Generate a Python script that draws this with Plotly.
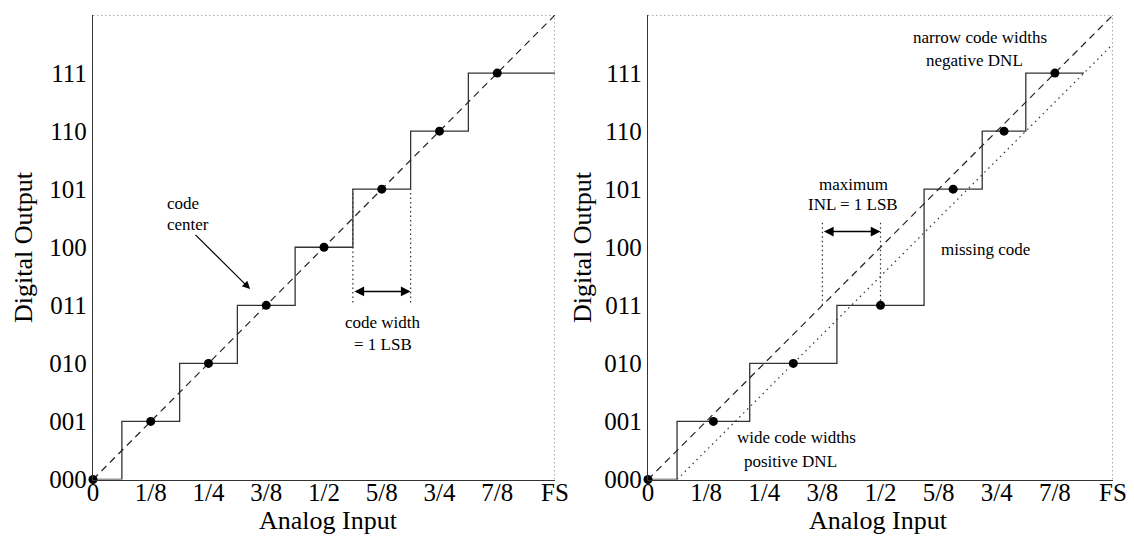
import plotly.graph_objects as go

# ---- axis ticks ----
x_tick_vals = [0, 1/8, 2/8, 3/8, 4/8, 5/8, 6/8, 7/8, 1]
x_tick_text = ["0", "1/8", "1/4", "3/8", "1/2", "5/8", "3/4", "7/8", "FS"]
y_tick_vals = [0, 1, 2, 3, 4, 5, 6, 7]
y_tick_text = ["000", "001", "010", "011", "100", "101", "110", "111"]

# ---- ideal converter (left) ----
ideal_codes = [0, 1, 2, 3, 4, 5, 6, 7]
ideal_starts = [0, 1/16, 3/16, 5/16, 7/16, 9/16, 11/16, 13/16]
ideal_end = 1.0
ideal_center_x = [0, 1/8, 2/8, 3/8, 4/8, 5/8, 6/8, 7/8]
ideal_center_y = [0, 1, 2, 3, 4, 5, 6, 7]
width_marks_x = [9/16, 11/16]
width_marks_top = 5
width_marks_bottom = 3.05
width_arrow_y = 3.24

# ---- non-ideal converter (right) ----
real_codes = [0, 1, 2, 3, 4, 5, 6, 7]
real_starts = [0, 1/16, 3.5/16, 6.5/16, 9.5/16, 9.5/16, 11.5/16, 13/16]
real_end = 15/16
real_center_x = [0, 2.25/16, 5/16, 8/16, 10.5/16, 12.25/16, 14/16]
real_center_y = [0, 1, 2, 3, 5, 6, 7]
shifted_line_x = [1/16, 1]
shifted_line_y = [0, 7.5]
inl_marks_x = [3/8, 1/2]
inl_marks_bottom = 3
inl_marks_top = 4.47
inl_arrow_y = 4.27

ideal_line_x = [0, 1]
ideal_line_y = [0, 8]

FONT = "Liberation Serif"
STEP_COLOR = "#333333"

fig = go.Figure()

def add_panel(xa, ya, starts, codes, end, cx, cy):
    fig.add_trace(go.Scatter(x=starts + [end], y=codes + [codes[-1]], mode="lines",
                             line=dict(color=STEP_COLOR, width=1.3, shape="hv"),
                             xaxis=xa, yaxis=ya, showlegend=False, hoverinfo="skip"))
    fig.add_trace(go.Scatter(x=ideal_line_x, y=ideal_line_y, mode="lines",
                             line=dict(color="#222222", width=1.2, dash="7px,5px"),
                             xaxis=xa, yaxis=ya, showlegend=False, hoverinfo="skip"))
    fig.add_trace(go.Scatter(x=cx, y=cy, mode="markers", cliponaxis=False,
                             marker=dict(color="black", size=9),
                             xaxis=xa, yaxis=ya, showlegend=False, hoverinfo="skip"))

add_panel("x", "y", ideal_starts, ideal_codes, ideal_end, ideal_center_x, ideal_center_y)
add_panel("x2", "y2", real_starts, real_codes, real_end, real_center_x, real_center_y)

# shifted dotted line on the right panel
fig.add_trace(go.Scatter(x=shifted_line_x, y=shifted_line_y, mode="lines",
                         line=dict(color="#333333", width=1.2, dash="1.5px,4px"),
                         xaxis="x2", yaxis="y2", showlegend=False, hoverinfo="skip"))

# dotted marker verticals
for xv in width_marks_x:
    fig.add_trace(go.Scatter(x=[xv, xv], y=[width_marks_bottom, width_marks_top], mode="lines",
                             line=dict(color="#333333", width=1.2, dash="1.5px,3px"),
                             xaxis="x", yaxis="y", showlegend=False, hoverinfo="skip"))
for xv in inl_marks_x:
    fig.add_trace(go.Scatter(x=[xv, xv], y=[inl_marks_bottom, inl_marks_top], mode="lines",
                             line=dict(color="#333333", width=1.2, dash="1.5px,3px"),
                             xaxis="x2", yaxis="y2", showlegend=False, hoverinfo="skip"))

# border dotted lines (top and right) for both panels
for xr, yr in [("x", "y"), ("x2", "y2")]:
    fig.add_shape(type="line", xref=xr, yref=yr, x0=0, x1=1, y0=8, y1=8,
                  line=dict(color="#555555", width=1, dash="1.5px,2.5px"))
    fig.add_shape(type="line", xref=xr, yref=yr, x0=1, x1=1, y0=0, y1=8,
                  line=dict(color="#555555", width=1, dash="1.5px,2.5px"))

axis_common = dict(showgrid=False, zeroline=False, showline=True, linecolor="#333333",
                   linewidth=1.3, ticks="", automargin=False,
                   tickfont=dict(family=FONT, size=25, color="black"))
xaxis_extra = dict(ticklabelstandoff=-10)

fig.update_layout(
    width=1134, height=536, margin=dict(l=0, r=0, t=0, b=0, autoexpand=False),
    plot_bgcolor="white", paper_bgcolor="white",
    xaxis=dict(domain=[93/1134, 555/1134], range=[0, 1], anchor="y",
               tickvals=x_tick_vals, ticktext=x_tick_text, **axis_common, **xaxis_extra),
    yaxis=dict(domain=[1-479.5/536, 1-15/536], range=[0, 8], anchor="x",
               tickvals=y_tick_vals, ticktext=y_tick_text, **axis_common),
    xaxis2=dict(domain=[648/1134, 1113/1134], range=[0, 1], anchor="y2",
                tickvals=x_tick_vals, ticktext=x_tick_text, **axis_common, **xaxis_extra),
    yaxis2=dict(domain=[1-479.5/536, 1-15/536], range=[0, 8], anchor="x2",
                tickvals=y_tick_vals, ticktext=y_tick_text, **axis_common),
)

ann = []
def txt(text, x, y, xr="x", yr="y", size=17, xanchor="center"):
    ann.append(dict(text=text, x=x, y=y, xref=xr, yref=yr, showarrow=False,
                    xanchor=xanchor, yanchor="middle",
                    font=dict(family=FONT, size=size, color="black")))

# axis titles
for cx in [328.5/1134, 878/1134]:
    ann.append(dict(text="Analog Input", x=cx, y=1-520/536, xref="paper", yref="paper",
                    showarrow=False, xanchor="center", yanchor="middle",
                    font=dict(family=FONT, size=26, color="black")))
for cx in [24/1134, 583/1134]:
    ann.append(dict(text="Digital Output", x=cx, y=1-247/536, xref="paper", yref="paper",
                    showarrow=False, xanchor="center", yanchor="middle", textangle=-90,
                    font=dict(family=FONT, size=26, color="black")))

# left panel texts
txt("code", 0.156, 4.76, xanchor="left")
txt("center", 0.156, 4.40, xanchor="left")
txt("code width", 0.628, 2.71)
txt("= 1 LSB", 0.628, 2.33)
# right panel texts
txt("maximum", 0.441, 5.08, "x2", "y2")
txt("INL = 1 LSB", 0.441, 4.73, "x2", "y2")
txt("narrow code widths", 0.714, 7.61, "x2", "y2")
txt("negative DNL", 0.703, 7.21, "x2", "y2")
txt("missing code", 0.725, 3.96, "x2", "y2")
txt("wide code widths", 0.32, 0.72, "x2", "y2")
txt("positive DNL", 0.3075, 0.31, "x2", "y2")

# arrows
ann.append(dict(text="", x=0.34, y=3.28, ax=0.2186, ay=4.24, xref="x", yref="y",
                axref="x", ayref="y", showarrow=True, arrowhead=2, arrowsize=1.3,
                arrowwidth=1.2, arrowcolor="black"))
ann.append(dict(text="", x=width_marks_x[1], y=width_arrow_y, ax=width_marks_x[0], ay=width_arrow_y,
                xref="x", yref="y", axref="x", ayref="y", showarrow=True, arrowhead=2,
                startarrowhead=2, arrowside="end+start", arrowsize=1.3, startarrowsize=1.3,
                arrowwidth=1.5, arrowcolor="black"))
ann.append(dict(text="", x=inl_marks_x[1], y=inl_arrow_y, ax=inl_marks_x[0], ay=inl_arrow_y,
                xref="x2", yref="y2", axref="x2", ayref="y2", showarrow=True, arrowhead=2,
                startarrowhead=2, arrowside="end+start", arrowsize=1.3, startarrowsize=1.3,
                arrowwidth=1.5, arrowcolor="black"))

fig.update_layout(annotations=ann)
fig.write_html("out.html", config={"displayModeBar": False},
               post_script="document.body.style.margin='0';document.body.style.padding='0';"
                           "document.body.style.overflow='hidden';")
